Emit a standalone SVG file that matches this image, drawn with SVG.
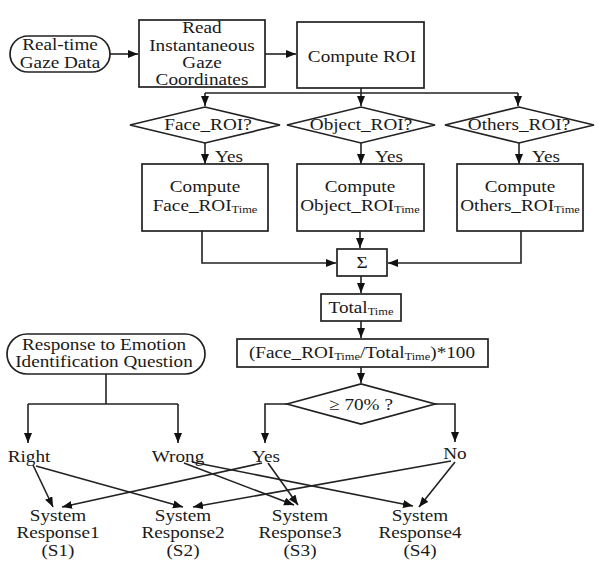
<svg xmlns="http://www.w3.org/2000/svg" width="601" height="561" viewBox="0 0 601 561">
<style>
text{font-family:"Liberation Serif","Times New Roman",serif;font-size:17px;fill:#1a1a1a;text-anchor:middle;transform-box:fill-box;transform-origin:center;transform:scaleX(1.13)}
.sub{font-size:11px}
.box{fill:#fff;stroke:#222;stroke-width:1.7}
.c{fill:none;stroke:#222;stroke-width:1.6}
</style>
<defs>
<marker id="ah" markerUnits="userSpaceOnUse" markerWidth="11" markerHeight="9" refX="10" refY="4" orient="auto">
<path d="M0,0 L10,4 L0,8 z" fill="#111"/>
</marker>
</defs>
<rect width="601" height="561" fill="#fff"/>

<g id="connectors">
<path class="c" d="M110,54 H138" marker-end="url(#ah)"/>
<path class="c" d="M265,54 H296" marker-end="url(#ah)"/>
<path class="c" d="M361,88 V93"/>
<path class="c" d="M205,93 H518"/>
<path class="c" d="M205,93 V106" marker-end="url(#ah)"/>
<path class="c" d="M361,93 V106" marker-end="url(#ah)"/>
<path class="c" d="M518,93 V106" marker-end="url(#ah)"/>
<path class="c" d="M205,143 V164" marker-end="url(#ah)"/>
<path class="c" d="M361,143 V164" marker-end="url(#ah)"/>
<path class="c" d="M519,143 V164" marker-end="url(#ah)"/>
<path class="c" d="M202,231 V263 H336" marker-end="url(#ah)"/>
<path class="c" d="M360,231 V248" marker-end="url(#ah)"/>
<path class="c" d="M521,231 V263 H388" marker-end="url(#ah)"/>
<path class="c" d="M361,276 V293" marker-end="url(#ah)"/>
<path class="c" d="M361,321 V338" marker-end="url(#ah)"/>
<path class="c" d="M361,367 V383" marker-end="url(#ah)"/>
<path class="c" d="M435,404 H455 V442" marker-end="url(#ah)"/>
<path class="c" d="M287,404 H265 V443" marker-end="url(#ah)"/>
<path class="c" d="M106,374 V404"/>
<path class="c" d="M28,404 H178"/>
<path class="c" d="M28,404 V443" marker-end="url(#ah)"/>
<path class="c" d="M178,404 V443" marker-end="url(#ah)"/>
<path class="c" d="M33,465 L53,507" marker-end="url(#ah)"/>
<path class="c" d="M36,466 L183,507" marker-end="url(#ah)"/>
<path class="c" d="M262,463 L62,507" marker-end="url(#ah)"/>
<path class="c" d="M268,463 L298,505" marker-end="url(#ah)"/>
<path class="c" d="M184,463 L294,505" marker-end="url(#ah)"/>
<path class="c" d="M192,462 L413,506" marker-end="url(#ah)"/>
<path class="c" d="M451,461 L193,507" marker-end="url(#ah)"/>
<path class="c" d="M455,462 L419,507" marker-end="url(#ah)"/>
</g>

<g id="gaze-data">
<rect class="box" x="10" y="36" width="100" height="36" rx="18"/>
<text x="60" y="50">Real-time</text>
<text x="60" y="68">Gaze Data</text>
</g>

<g id="read-coords">
<rect class="box" x="139" y="20" width="126" height="67"/>
<text x="202" y="33">Read</text>
<text x="202" y="51">Instantaneous</text>
<text x="202" y="68">Gaze</text>
<text x="202" y="85">Coordinates</text>
</g>

<g id="compute-roi">
<rect class="box" x="297" y="22" width="127" height="66"/>
<text x="362" y="62">Compute ROI</text>
</g>

<g id="face-roi-q">
<polygon class="box" points="130,125 205,107 280,125 205,143"/>
<text x="208" y="130">Face_ROI?</text>
</g>
<g id="object-roi-q">
<polygon class="box" points="287,125 361,107 435,125 361,143"/>
<text x="361" y="130">Object_ROI?</text>
</g>
<g id="others-roi-q">
<polygon class="box" points="445,125 519,107 594,125 519,143"/>
<text x="519" y="130">Others_ROI?</text>
</g>

<g id="yes-labels">
<text x="229" y="162">Yes</text>
<text x="389" y="162">Yes</text>
<text x="546" y="162">Yes</text>
</g>

<g id="face-time">
<rect class="box" x="142" y="164" width="126" height="67"/>
<text x="205" y="192">Compute</text>
<text x="205" y="211">Face_ROI<tspan class="sub" dy="2">Time</tspan></text>
</g>
<g id="object-time">
<rect class="box" x="297" y="164" width="127" height="67"/>
<text x="360" y="192">Compute</text>
<text x="360" y="211">Object_ROI<tspan class="sub" dy="2">Time</tspan></text>
</g>
<g id="others-time">
<rect class="box" x="457" y="164" width="126" height="67"/>
<text x="520" y="192">Compute</text>
<text x="520" y="211">Others_ROI<tspan class="sub" dy="2">Time</tspan></text>
</g>

<g id="sum">
<rect class="box" x="337" y="249" width="50" height="27"/>
<text x="362" y="268">Σ</text>
</g>

<g id="total">
<rect class="box" x="321" y="294" width="80" height="27"/>
<text x="361" y="313">Total<tspan class="sub" dy="2">Time</tspan></text>
</g>

<g id="ratio">
<rect class="box" x="237" y="339" width="251" height="28"/>
<text x="362" y="358">(Face_ROI<tspan class="sub" dy="2">Time</tspan><tspan dy="-2">/Total</tspan><tspan class="sub" dy="2">Time</tspan><tspan dy="-2">)*100</tspan></text>
</g>

<g id="threshold">
<polygon class="box" points="287,404 361,384 435,404 361,424"/>
<text x="361" y="410">≥ 70% ?</text>
</g>

<g id="emotion-q">
<rect class="box" x="7" y="334" width="198" height="40" rx="20"/>
<text x="104" y="350">Response to Emotion</text>
<text x="104" y="367">Identification Question</text>
</g>

<g id="outcomes">
<text x="29" y="462">Right</text>
<text x="178" y="462">Wrong</text>
<text x="266" y="462">Yes</text>
<text x="455" y="459">No</text>
</g>

<g id="s1">
<text x="58" y="521">System</text>
<text x="58" y="538">Response1</text>
<text x="58" y="556">(S1)</text>
</g>
<g id="s2">
<text x="183" y="521">System</text>
<text x="183" y="538">Response2</text>
<text x="183" y="556">(S2)</text>
</g>
<g id="s3">
<text x="300" y="521">System</text>
<text x="300" y="538">Response3</text>
<text x="300" y="556">(S3)</text>
</g>
<g id="s4">
<text x="420" y="521">System</text>
<text x="420" y="538">Response4</text>
<text x="420" y="556">(S4)</text>
</g>
</svg>
